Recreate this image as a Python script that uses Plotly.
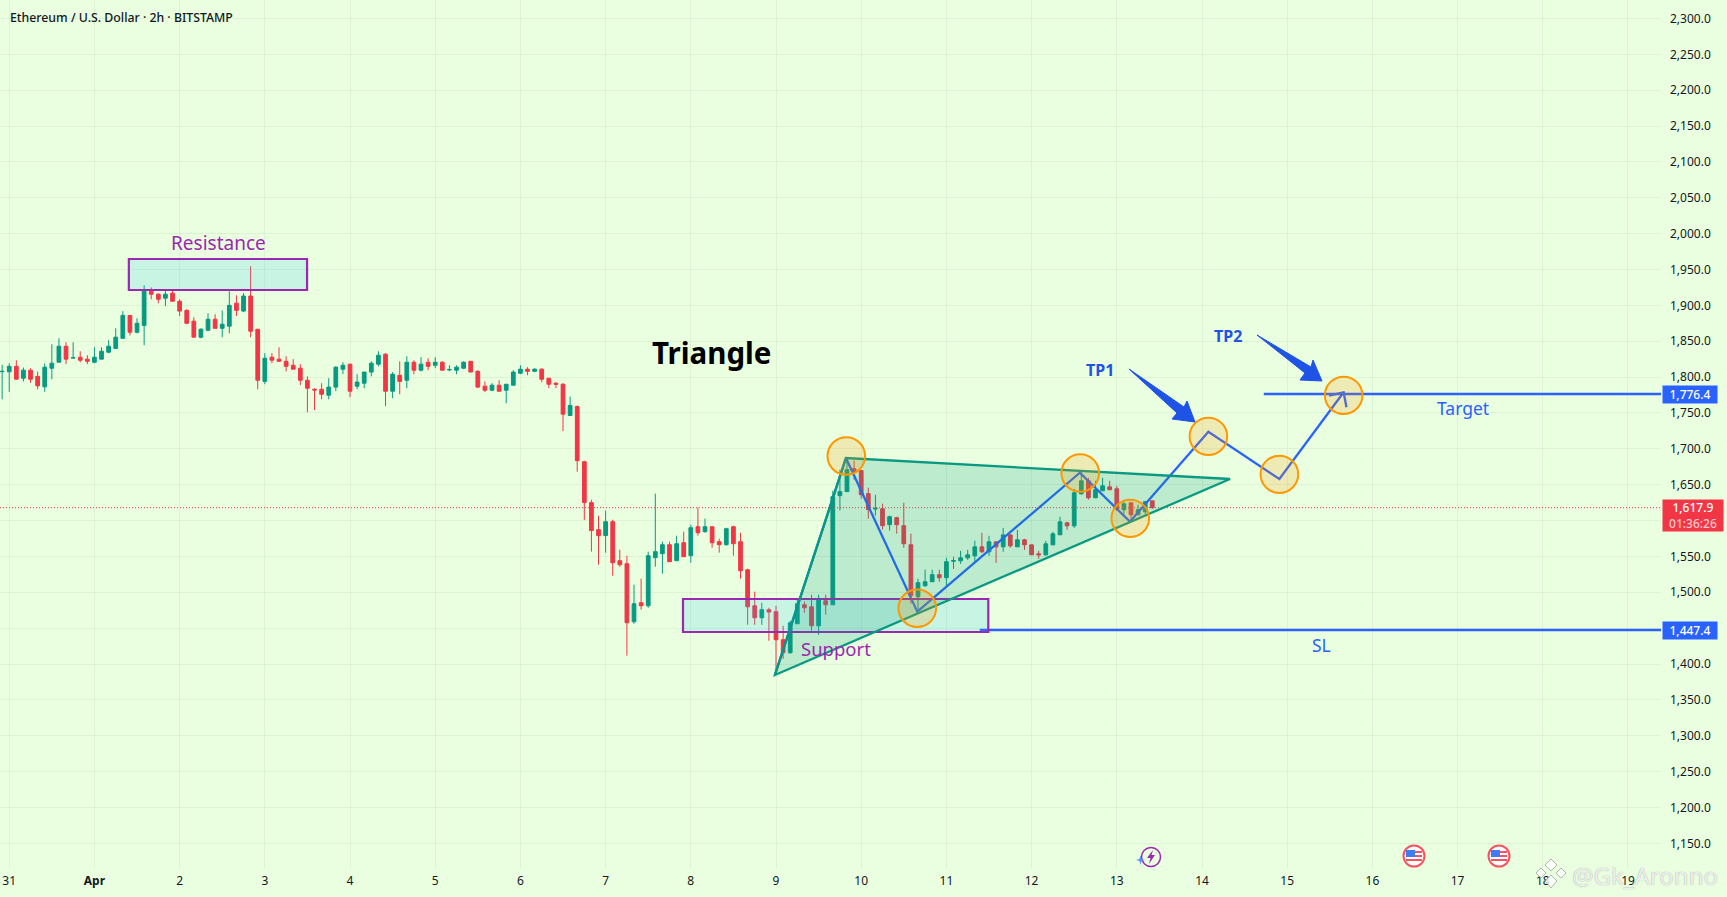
import pandas as pd
import plotly.graph_objects as go

# 2h candles (first one is 30 Mar 22:00)
candle_open = [1807.5,1807.3,1815,1798.4,1809.6,1801,1786.4,1812.4,1820.7,1843,1826.5,1827.7,1825,
    1820.7,1825,1834.7,1840,1854,1886,1862.5,1872,1919.7,1915.5,
    1910,1917,1905.7,1893,1878,1855.6,1865.3,1880.6,1868,1871,
    1903,1892,1913,1866.7,1794,1827.7,1825,1822,1816.5,1812.4,
    1795.6,1783,1783,1774.7,1786,1811,1818,1787.3,1791.5,1807,
    1818,1832,1780.3,1802.6,1795.6,1820.7,1809.6,1820.7,1816.5,1820.7,
    1810,1809.6,1812.4,1822,1808,1787.3,1781.7,1788.7,1781.7,1788.7,
    1805.4,1811,1808,1811,1798.4,1791.5,1790,1746.5,1759,1682,
    1625,1587.3,1579,1598.4,1544,1539.8,1458.9,1485.4,1481.2,1548.2,
    1553.8,1566.3,1544,1569.1,1551,1591.4,1584.5,1591.4,1570.5,1566.3,
    1591.4,1570.5,1531.4,1481.2,1464.5,1475.7,1472.9,1433.8,1415.7,1456.1,
    1482.6,1479.8,1453.3,1488.2,1482.6,1634.7,1640.3,1672.3,1669.6,1637.5,
    1616,1616.5,1594.2,1604,1592.8,1566.3,1493.8,1509.1,1514.7,1524.5,
    1520.3,1543.2,1543.8,1548,1550.8,1563.3,1556.4,1570.3,1563.3,1580,
    1563.3,1573.1,1566.1,1553.6,1552.2,1566.1,1580.1,1596.8,1592.6,1637.3,
    1655.4,1631.7,1641.5,1647,1644.2,1615,1624.7,1608,1612.2,1627.5]
candle_high = [1817,1819.3,1823.5,1813.3,1812.4,1807.7,1818.9,1845.8,1854,1848.6,1848.6,1836,1830.5,
    1841.6,1841.6,1851.4,1868,1892,1886,1882,1928,1925,1917,
    1922.5,1922.5,1908.5,1894.6,1883.4,1868,1889,1887.6,1893,1919.7,
    1914,1917,1954.5,1866.7,1833.3,1833.3,1841.6,1829,1825,1818,
    1801,1784.5,1791.5,1798.4,1815,1820.7,1818,1804,1807,1822,
    1836,1833.3,1807,1822,1829,1823.5,1827.7,1826.3,1827.7,1822,
    1816.5,1816.5,1822,1822,1809.6,1794,1791.5,1795.6,1790,1809.6,
    1816.5,1813.8,1812.4,1812.4,1798.4,1793,1791.5,1772.8,1760.3,1683.5,
    1629,1606.8,1613.8,1601.2,1559.4,1551,1510.5,1518.9,1556.6,1637.5,
    1570.5,1570.5,1578.9,1584.5,1594.2,1618,1602.6,1591.4,1574.7,1590,
    1592.8,1583,1532.8,1500.8,1485.4,1478.4,1481.2,1453.3,1460.3,1491,
    1486.8,1496.6,1496.6,1496.6,1641.7,1670.9,1687.7,1683.5,1669.6,1645.8,
    1636,1623.5,1606.8,1605.4,1624.9,1581.7,1518.9,1531.5,1531.5,1531.5,
    1548.2,1549.4,1557.8,1559.2,1571.7,1582.9,1578.7,1570.3,1589.8,1581.5,
    1587,1574.5,1566.1,1557.8,1571.7,1584.3,1605.2,1598.2,1644.2,1668,
    1659.6,1655.4,1659.6,1655.4,1648.4,1628.9,1624.7,1622,1627.5,1627.5]
candle_low = [1769,1779.4,1797,1794,1792,1783,1779.4,1797,1820.7,1818,1826.3,1820.7,1818,
    1819.3,1825,1833.3,1840,1854,1858,1861,1844.4,1908.5,1903,
    1899,1905.7,1885,1873.7,1855.6,1854,1864,1868,1855.6,1861,
    1885,1890.4,1855.6,1783,1790,1819.3,1822,1808,1811,1788.7,
    1751,1754,1769,1769,1780.3,1804,1772,1783,1784.5,1801,
    1815,1759.4,1770.6,1776,1784.5,1804,1808,1809.6,1812.4,1809.6,
    1808,1804,1811,1807,1784.5,1779,1780.3,1780.3,1763.6,1788.7,
    1804,1802.6,1807,1793,1784.5,1784.5,1724.6,1746,1668,1601,
    1556.6,1538.4,1555.2,1523.1,1535.6,1411.5,1456.1,1475.7,1478.4,1535.6,
    1525.9,1542.6,1544,1549.6,1541.2,1578.9,1583,1562.1,1555.2,1564.9,
    1551,1518.9,1454.7,1454.7,1454.7,1432.4,1385,1407.3,1414.3,1456,
    1471.5,1446.4,1440.8,1468.7,1482.6,1614.2,1640.3,1657,1630.5,1602.6,
    1606.8,1587.3,1585.9,1581.7,1562.1,1484,1473.8,1507.7,1514.7,1514.7,
    1508.2,1532.6,1539.6,1545.2,1542.4,1555,1550.8,1541,1556.4,1562,
    1563.3,1559.2,1552.2,1546.6,1550.8,1566.1,1580.1,1587,1589.8,1635.9,
    1628.9,1631.7,1641.5,1642.9,1613.6,1608,1598.2,1608,1609.4,1616.3]
candle_close = [1808,1815,1797,1809.6,1797,1787.8,1813.8,1819.3,1843,1825,1827,1823.5,1822,
    1827.7,1836,1843,1855.6,1886,1862.5,1875,1919.7,1915.5,1908.5,
    1915.5,1905.7,1892,1875,1855.6,1866.7,1880.6,1868,1873.7,1900,
    1893,1913,1864,1795.6,1826.3,1823.5,1822,1815,1811,1795.6,
    1784.5,1782,1776,1786,1813.8,1816.5,1780.3,1793,1807,1819.3,
    1830.5,1780.3,1804,1794,1820.7,1809.6,1818,1815,1820.7,1809.6,
    1810.6,1813.8,1820.7,1807,1786,1781.7,1788.7,1780.3,1790,1807,
    1811,1808,1811,1797,1790,1790,1748.3,1760.5,1683.5,1625,
    1586,1578.9,1598.4,1541.2,1538.4,1457.5,1484,1481.2,1551,1556.6,
    1566.3,1542.6,1567.7,1549.6,1590,1583,1591.4,1569.1,1566.3,1588.6,
    1567.7,1530,1479.8,1464.5,1475.7,1472.4,1433.8,1415.7,1457.5,1484,
    1478.4,1453.3,1489.6,1482.6,1633.3,1640.3,1670.9,1668.2,1636.1,1615.2,
    1617,1592.8,1605.4,1594.2,1567.7,1495.2,1513.3,1514.7,1524.5,1520.3,
    1542.6,1544.2,1548,1552.2,1563.3,1556.4,1570.3,1563.3,1580,1564.7,
    1573.1,1566.1,1552.2,1552.2,1567.5,1581.5,1598.2,1592.6,1638.7,1655.4,
    1631.7,1642.9,1648.4,1642.9,1616.3,1623.3,1608,1615,1626.1,1617.9]
candle_times = pd.date_range('2025-03-30 22:00', periods=len(candle_open), freq='2h')

# axis ticks
day_ticks = pd.date_range('2025-03-31', '2025-04-19', freq='D')
day_labels = ['31', '<b>Apr</b>'] + [str(d) for d in range(2, 20)]
price_ticks = list(range(1150, 2301, 50))
# these two sit behind the price tags, so no label is visible for them
hidden_price_ticks = [1450, 1600]

last_price = 1617.9
target_price = 1776.4
sl_price = 1447.4

# drawings
triangle_x = ['2025-04-08_23:42', '2025-04-09_19:42', '2025-04-14_07:54']
triangle_y = [1384.7, 1687.2, 1657.9]
path_x = ['2025-04-08 23:42', '2025-04-09 19:42', '2025-04-10 15:48', '2025-04-12 13:36',
          '2025-04-13 03:42', '2025-04-14 01:48', '2025-04-14 21:48', '2025-04-15 15:54']
path_y = [1384.7, 1687.2, 1472.9, 1666.7, 1598.4, 1723.8, 1657.9, 1778.8]
barb_x = ['2025-04-15 11:48', '2025-04-15 15:54', '2025-04-15 16:42']
barb_y = [1774, 1778.8, 1757.9]
circle_x = ['2025-04-09 19:48', '2025-04-10 15:48', '2025-04-12 13:42', '2025-04-13 03:48',
            '2025-04-14 01:48', '2025-04-14 21:48', '2025-04-15 15:54']
circle_y = [1690, 1477.7, 1666.3, 1603.1, 1717.4, 1664.5, 1774.6]
zones = [('2025-04-01 09:42', '2025-04-03 11:54', 1921.4, 1964.6),
         ('2025-04-07 21:48', '2025-04-11 11:48', 1444.6, 1490.6)]

x_start = pd.Timestamp('2025-03-30 21:24')
x_end = pd.Timestamp('2025-04-19 09:18')
y_low = 1115.6
y_high = 2325.7

W, H = 1727, 897
PLOT_W, PLOT_H = 1661, 868
FONT = 'Noto Sans'
BLUE = '#2962ff'
PURPLE = '#9c27b0'
GREEN = '#089981'
RED = '#f23645'
BG = '#eaffe0'


def px(x, y):
    # page pixels to paper coordinates
    return x / PLOT_W, 1 - y / PLOT_H


def poly(points):
    return 'M' + ' L'.join('%.5f,%.5f' % px(*p) for p in points) + ' Z'


fig = go.Figure()
fig.add_trace(go.Candlestick(x=candle_times, open=candle_open, high=candle_high, low=candle_low, close=candle_close,
                             whiskerwidth=0,
                             increasing=dict(line=dict(color=GREEN, width=1), fillcolor=GREEN),
                             decreasing=dict(line=dict(color=RED, width=1), fillcolor=RED)))
fig.add_trace(go.Scatter(x=path_x, y=path_y, mode='lines', line=dict(color=BLUE, width=2.3)))
fig.add_trace(go.Scatter(x=barb_x, y=barb_y, mode='lines', line=dict(color=BLUE, width=2.3)))
fig.add_trace(go.Scatter(x=['2025-04-14 17:24', x_end], y=[target_price, target_price], mode='lines',
                         line=dict(color=BLUE, width=2.3)))
fig.add_trace(go.Scatter(x=['2025-04-11 09:24', x_end], y=[sl_price, sl_price], mode='lines',
                         line=dict(color=BLUE, width=2.3)))

shapes = []
shapes.append(dict(type='line', xref='paper', x0=0, x1=1, yref='y', y0=last_price, y1=last_price,
                   line=dict(color=RED, width=1, dash='1px,2px'), layer='above'))
for x0, x1, y0, y1 in zones:
    shapes.append(dict(type='rect', x0=x0, x1=x1, y0=y0, y1=y1, fillcolor='rgba(30,190,245,0.17)',
                       line=dict(color=PURPLE, width=2.2), layer='above'))
shapes.append(dict(type='path', xref='x', yref='y', layer='above',
                   path='M%s,%s L%s,%s L%s,%s Z' % (triangle_x[0], triangle_y[0], triangle_x[1], triangle_y[1],
                                                    triangle_x[2], triangle_y[2]),
                   fillcolor='rgba(8,153,129,0.2)', line=dict(color=GREEN, width=2.3)))
for cx, cy in zip(circle_x, circle_y):
    t = pd.Timestamp(cx)
    d = pd.Timedelta(hours=5.3)
    shapes.append(dict(type='circle', x0=t - d, x1=t + d, y0=cy - 26, y1=cy + 26,
                       fillcolor='rgba(255,152,0,0.2)', line=dict(color='#ff9800', width=2), layer='above'))

# TP arrows
arrow_tp1 = [(1129, 369), (1184, 407), (1187, 401), (1195, 422), (1172, 419), (1177, 413)]
arrow_tp2 = [(1257, 335), (1311, 367), (1313, 360), (1322, 381), (1300, 380), (1305, 373)]
for arrow in (arrow_tp1, arrow_tp2):
    shapes.append(dict(type='path', xref='paper', yref='paper', path=poly(arrow), fillcolor='#1e53e5',
                       line=dict(color='#1e53e5', width=1), layer='above'))


def paper_circle(cx, cy, r, fill, line, width):
    x0, y0 = px(cx - r, cy + r)
    x1, y1 = px(cx + r, cy - r)
    return dict(type='circle', xref='paper', yref='paper', x0=x0, x1=x1, y0=y0, y1=y1, fillcolor=fill,
                line=dict(color=line, width=width), layer='above')


def paper_rect(x0, y0, x1, y1, fill):
    a0, b0 = px(x0, y1)
    a1, b1 = px(x1, y0)
    return dict(type='rect', xref='paper', yref='paper', x0=a0, x1=a1, y0=b0, y1=b1, fillcolor=fill,
                line=dict(width=0), layer='above')


# event icons under the candles
shapes.append(paper_circle(1151, 857, 9.5, 'rgba(0,0,0,0)', PURPLE, 1.5))
shapes.append(dict(type='path', xref='paper', yref='paper', fillcolor=PURPLE, line=dict(width=0), layer='above',
                   path=poly([(1153, 850), (1147, 858), (1150.5, 858), (1149, 864), (1155, 855), (1151.5, 855)])))
shapes.append(dict(type='path', xref='paper', yref='paper', fillcolor='#5b8cff', line=dict(width=0), layer='above',
                   path=poly([(1140.5, 855), (1141.5, 859), (1145, 860), (1141.5, 861), (1140.5, 865),
                              (1139.5, 861), (1136, 860), (1139.5, 859)])))
for fx in (1414, 1499):
    shapes.append(paper_circle(fx, 856, 10.5, 'white', '#f7525f', 2))
    shapes.append(paper_rect(fx - 8, 850, fx + 1, 857, '#3f7bf5'))
    shapes.append(paper_rect(fx + 1, 851, fx + 8, 853, '#f7525f'))
    shapes.append(paper_rect(fx + 1, 855, fx + 8, 857, '#f7525f'))
    shapes.append(paper_rect(fx - 8, 859, fx + 8, 861, '#f7525f'))

# watermark logo
logo_parts = [[(1551, 859), (1557, 865), (1551, 871), (1545, 865)],
              [(1541, 868), (1546, 873), (1541, 878), (1536, 873)],
              [(1561, 868), (1566, 873), (1561, 878), (1556, 873)],
              [(1551, 875), (1557, 881), (1551, 888), (1545, 881)]]
for part in logo_parts:
    shapes.append(dict(type='path', xref='paper', yref='paper', path=poly(part), fillcolor='rgba(255,255,255,0.8)',
                       line=dict(color='rgba(150,150,150,0.7)', width=1), layer='above'))


def label(text, x, y, size, color, bold=False):
    px_x, px_y = px(x, y)
    return dict(text='<b>%s</b>' % text if bold else text, x=px_x, y=px_y, xref='paper', yref='paper', showarrow=False,
                xanchor='center', yanchor='middle', font=dict(family=FONT, size=size, color=color))


annotations = [
    label('Resistance', 218, 243, 19, PURPLE),
    label('Support', 836, 648, 18.5, PURPLE),
    label('Triangle', 711, 352, 29.5, '#000000', True),
    label('TP1', 1100, 370, 16, '#1e53e5', True),
    label('TP2', 1228, 336, 16, '#1e53e5', True),
    label('Target', 1463, 408, 17.5, BLUE),
    label('SL', 1321, 645, 17.5, BLUE),
]
annotations.append(dict(text='Ethereum / U.S. Dollar · 2h · BITSTAMP', x=px(8, 0)[0], y=px(0, 17)[1], xref='paper',
                        yref='paper', showarrow=False, xanchor='left', yanchor='middle',
                        font=dict(family=FONT, size=12.3, color='#131722', weight=500)))
annotations.append(dict(text='@Gk_Aronno', x=px(1570, 0)[0], y=px(0, 875)[1], xref='paper', yref='paper',
                        showarrow=False, xanchor='left', yanchor='middle',
                        font=dict(family=FONT, size=24, color='rgba(255,255,255,0.85)',
                                  shadow='0px 0px 1px #777777')))

# price tags on the axis
for price, color in ((target_price, BLUE), (sl_price, BLUE)):
    annotations.append(dict(text='{:,.1f}'.format(price), xref='paper', yref='y', x=1.0006, y=price, showarrow=False,
                            xanchor='left', yanchor='middle', width=54, height=17, bgcolor=color, borderpad=0,
                            font=dict(family=FONT, size=12, color='white', weight=500)))
annotations.append(dict(text='1,617.9<br><span style="color:#ffc9ce">01:36:26</span>', xref='paper', yref='paper',
                        x=1.0006, y=px(0, 515.5)[1], showarrow=False, xanchor='left', yanchor='middle', width=60,
                        height=31, bgcolor=RED, borderpad=0, font=dict(family=FONT, size=12, color='white', weight=500)))

GRID = 'rgba(0,60,30,0.06)'
fig.update_layout(width=W, height=H, margin=dict(l=0, r=W - PLOT_W, t=0, b=H - PLOT_H), autosize=False,
                  paper_bgcolor=BG, plot_bgcolor=BG, showlegend=False, boxgap=0.25, hovermode=False,
                  font=dict(family=FONT, size=12, color='#131722'), shapes=shapes, annotations=annotations)
fig.update_xaxes(type='date', range=[x_start, x_end], tickmode='array', tickvals=day_ticks, ticktext=day_labels,
                 showgrid=True, gridcolor=GRID, gridwidth=1, zeroline=False, showline=False, ticks='',
                 ticklabelstandoff=4, rangeslider=dict(visible=False), tickangle=0)
fig.update_yaxes(side='right', range=[y_low, y_high], tickmode='array', tickvals=price_ticks,
                 ticktext=['' if p in hidden_price_ticks else '{:,.1f}'.format(p) for p in price_ticks],
                 showgrid=True, gridcolor=GRID, gridwidth=1, zeroline=False, showline=False, ticks='',
                 ticklabelstandoff=8)

fig.write_html("out.html", config={'displayModeBar': False},
               post_script="document.body.style.margin='0';document.body.style.background='%s';" % BG)
